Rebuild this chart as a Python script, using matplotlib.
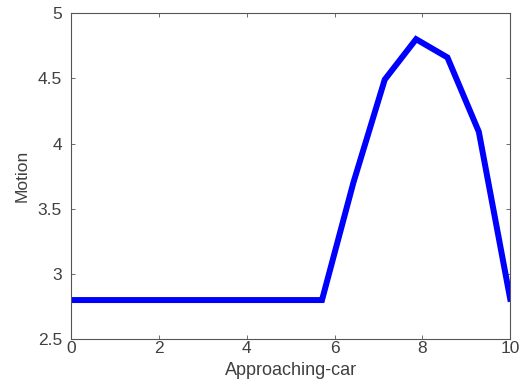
import numpy as np
import matplotlib
matplotlib.use('Agg')
import matplotlib.pyplot as plt

# approaching-car samples (15 points over 0..10) and motion values
approaching_car = [0, 0.714, 1.429, 2.143, 2.857, 3.571, 4.286, 5.0, 5.714,
                   6.429, 7.143, 7.857, 8.571, 9.286, 10.0]
motion = [2.8, 2.8, 2.8, 2.8, 2.8, 2.8, 2.8, 2.8, 2.8,
          3.7, 4.49, 4.8, 4.66, 4.09, 2.81]
x_ticks = [0, 2, 4, 6, 8, 10]
y_ticks = [2.5, 3, 3.5, 4, 4.5, 5]

plt.rcParams['font.family'] = ['Liberation Sans', 'DejaVu Sans']
txt = '#404040'

fig = plt.figure(figsize=(5.19, 3.85), dpi=100)
ax = fig.add_axes([0.137, 0.119, 0.846, 0.847])
ax.plot(approaching_car, motion, color='#0000ff', linewidth=4.3,
        solid_joinstyle='miter')

ax.set_xlim(0, 10)
ax.set_ylim(2.5, 5)
ax.set_xticks(x_ticks)
ax.set_xticklabels([str(v) for v in x_ticks])
ax.set_yticks(y_ticks)
ax.set_yticklabels(['2.5', '3', '3.5', '4', '4.5', '5'])
ax.tick_params(direction='in', top=True, right=True, length=3, width=0.6,
               colors='#555555', labelcolor=txt, labelsize=12.5)
ax.tick_params(axis='x', pad=1.5)
ax.tick_params(axis='y', pad=6.5)
for s in ax.spines.values():
    s.set_color('#555555')
    s.set_linewidth(0.8)

ax.set_xlabel('Approaching-car', fontsize=13, color=txt, labelpad=4)
ax.set_ylabel('Motion', fontsize=12.5, color=txt, labelpad=6)

fig.savefig('out.png', dpi=100)
